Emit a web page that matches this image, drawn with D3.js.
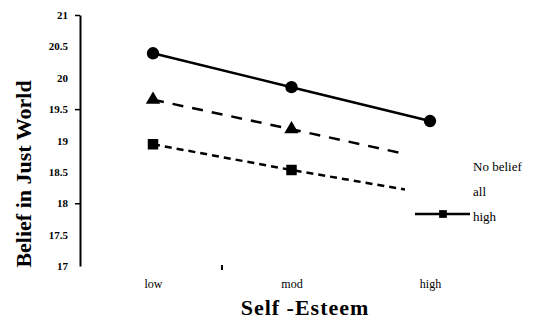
<!DOCTYPE html>
<html>
<head>
<meta charset="utf-8">
<script src="https://cdn.jsdelivr.net/npm/d3@7"></script>
<style>
  body { margin: 0; background: #fff; }
  text { font-family: "Liberation Serif", "Times New Roman", serif; fill: #000; }
</style>
</head>
<body>
<div id="chart"></div>
<script>
// data
var levels = ["low", "mod", "high"];
var seriesNames = ["No belief", "all", "high"];
var noBelief = [19.65, 19.18, 18.7];
var allBelief = [18.94, 18.53, 18.15];
var highBelief = [20.39, 19.85, 19.31];
var yTicks = [17, 17.5, 18, 18.5, 19, 19.5, 20, 20.5, 21];
var yMarked = [18, 19.5, 21];

var svgWidth = 548, svgHeight = 320;

var svg = d3.select("#chart").append("svg")
    .attr("width", svgWidth)
    .attr("height", svgHeight);

var x = d3.scalePoint().domain(levels).range([153, 430]);
var y = d3.scaleLinear().domain([17, 21]).range([266, 15]);

// y axis
var yAxis = svg.append("g")
    .attr("transform", "translate(80,0)")
    .call(d3.axisLeft(y).tickValues(yTicks).tickSize(5).tickSizeOuter(0)
        .tickFormat(d => d));
yAxis.select(".domain").attr("stroke", "#000").attr("stroke-width", 2);
yAxis.selectAll(".tick line")
    .attr("stroke", "#000").attr("stroke-width", 1.5)
    .attr("opacity", d => yMarked.indexOf(d) >= 0 ? 1 : 0);
yAxis.selectAll(".tick text")
    .attr("x", -12)
    .style("font-family", "Liberation Serif")
    .style("font-size", "11px")
    .style("font-weight", "bold");

// x labels (no axis line in the picture)
var xAxis = svg.append("g")
    .attr("transform", "translate(0,266)")
    .call(d3.axisBottom(x).tickSize(0));
xAxis.select(".domain").remove();
xAxis.selectAll(".tick text")
    .attr("y", 13)
    .style("font-family", "Liberation Serif")
    .style("font-size", "12px");
// stray little tick left between low and mod
svg.append("line")
    .attr("x1", 222).attr("x2", 222)
    .attr("y1", 265).attr("y2", 270)
    .attr("stroke", "#000").attr("stroke-width", 2);

// axis titles
svg.append("text")
    .attr("transform", "rotate(-90)")
    .attr("x", -174)
    .attr("y", 31)
    .attr("text-anchor", "middle")
    .style("font-size", "22px")
    .style("font-weight", "bold")
    .text("Belief in Just World");

svg.append("text")
    .attr("x", 305)
    .attr("y", 315)
    .attr("text-anchor", "middle")
    .style("font-size", "22px")
    .style("font-weight", "bold")
    .style("letter-spacing", "1px")
    .text("Self -Esteem");

// dashed series stop short of the high column
svg.append("clipPath").attr("id", "cut")
    .append("rect")
    .attr("x", 0).attr("y", 0)
    .attr("width", x("high") - 25).attr("height", svgHeight);

var line = d3.line()
    .x((d, i) => x(levels[i]))
    .y(d => y(d));

svg.append("path")
    .attr("d", line(noBelief))
    .attr("fill", "none").attr("stroke", "#000")
    .attr("stroke-width", 2.5)
    .attr("stroke-dasharray", "11,9")
    .attr("clip-path", "url(#cut)");

svg.append("path")
    .attr("d", line(allBelief))
    .attr("fill", "none").attr("stroke", "#000")
    .attr("stroke-width", 2.5)
    .attr("stroke-dasharray", "7,5")
    .attr("clip-path", "url(#cut)");

svg.append("path")
    .attr("d", line(highBelief))
    .attr("fill", "none").attr("stroke", "#000")
    .attr("stroke-width", 2.5);

// markers
var tri = d3.symbol().type(d3.symbolTriangle).size(90);
var sq = d3.symbol().type(d3.symbolSquare).size(110);
var circ = d3.symbol().type(d3.symbolCircle).size(120);

svg.selectAll(".tri").data(noBelief.slice(0, 2)).enter()
    .append("path").attr("class", "tri")
    .attr("d", tri)
    .attr("transform", (d, i) => `translate(${x(levels[i])},${y(d)})`);

svg.selectAll(".sq").data(allBelief.slice(0, 2)).enter()
    .append("path").attr("class", "sq")
    .attr("d", sq)
    .attr("transform", (d, i) => `translate(${x(levels[i])},${y(d)})`);

svg.selectAll(".circ").data(highBelief).enter()
    .append("path").attr("class", "circ")
    .attr("d", circ)
    .attr("transform", (d, i) => `translate(${x(levels[i])},${y(d)})`);

// legend
var legend = svg.append("g").attr("transform", "translate(415,166)");
seriesNames.forEach(function(name, i) {
    legend.append("text")
        .attr("x", 58)
        .attr("y", i * 25 + 5)
        .style("font-size", "13px")
        .text(name);
});
legend.append("line")
    .attr("x1", 0).attr("x2", 55)
    .attr("y1", 48).attr("y2", 48)
    .attr("stroke", "#000").attr("stroke-width", 2.5);
legend.append("path")
    .attr("d", d3.symbol().type(d3.symbolSquare).size(60))
    .attr("transform", "translate(28,48)");
</script>
</body>
</html>
